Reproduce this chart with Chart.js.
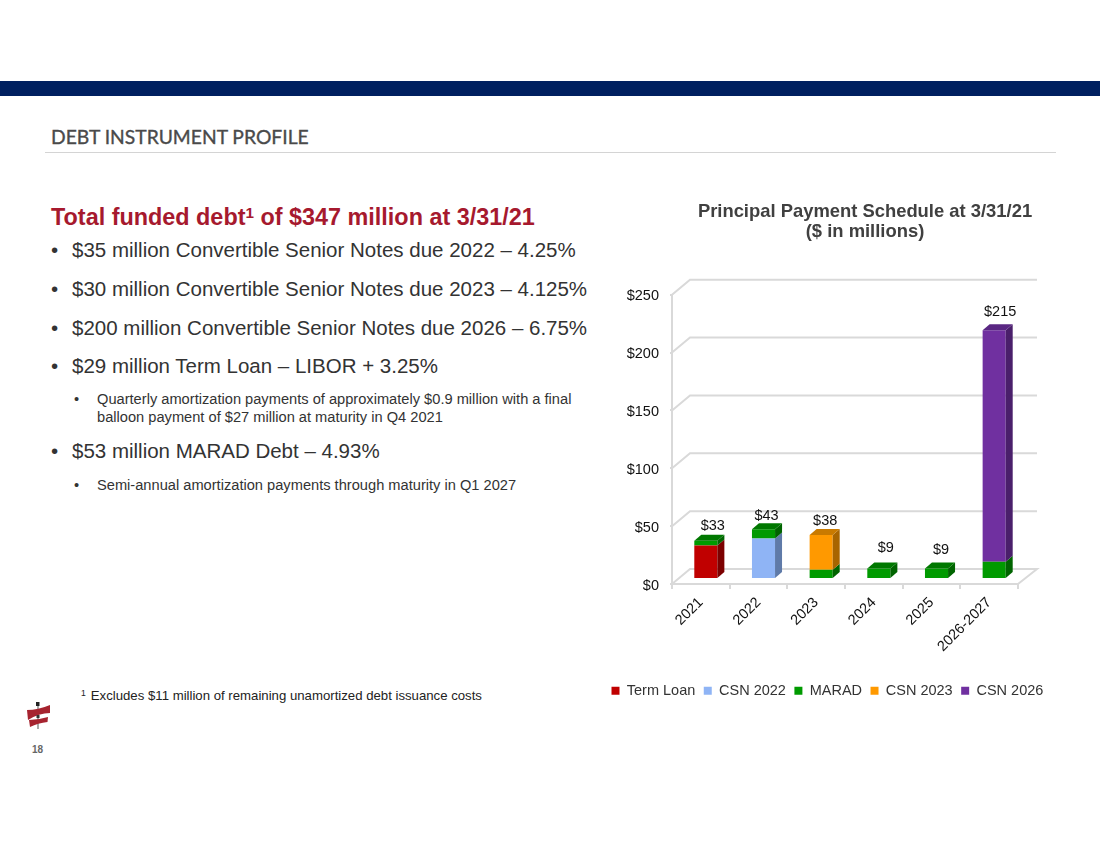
<!DOCTYPE html>
<html>
<head>
<meta charset="utf-8">
<title>Debt Instrument Profile</title>
<script src="https://cdn.jsdelivr.net/npm/chart.js@4"></script>
<style>
  html, body { margin: 0; padding: 0; background: #fff; width: 1100px; height: 850px; overflow: hidden; }
  body { position: relative; font-family: "Liberation Sans", Arial, sans-serif; color: #333; }
  .abs { position: absolute; white-space: nowrap; }
  #band { left: 0; top: 81px; width: 1100px; height: 15px; background: #002060; }
  #rule { left: 45px; top: 152px; width: 1011px; height: 1px; background: #d4d4d4; }
  #section { left: 51px; top: 125px; font: 400 19.3px Lato, sans-serif; -webkit-text-stroke: 0.35px #4a4a4a; color: #4a4a4a; line-height: 23px; }
  #headline { left: 51px; top: 203px; font-size: 23.4px; font-weight: bold; color: #a6192e; line-height: 28px; }
  sup { font-size: 65%; line-height: 0; vertical-align: baseline; position: relative; top: -0.45em; }
  .b1 { left: 51px; font-size: 20.5px; line-height: 24px; }
  .b1 span, .b2 span { display: inline-block; }
  .b1 span { width: 21px; }
  .b2 { left: 74px; font-size: 14.65px; line-height: 18px; }
  .b2 span { width: 23px; vertical-align: top; }
  .b2 div { display: inline-block; }
  #note { left: 81px; top: 688px; font-size: 13.2px; color: #222; line-height: 16px; }
  #note sup { margin-right: 5px; }
  #page { left: 32px; top: 744px; font-size: 10px; font-weight: bold; color: #666; }
  #logo { left: 24px; top: 698px; }
  #chart { position: absolute; left: 600px; top: 190px; }
</style>
</head>
<body>
<div class="abs" id="band"></div>
<div class="abs" id="section">DEBT INSTRUMENT PROFILE</div>
<div class="abs" id="rule"></div>

<div class="abs" id="headline">Total funded debt<sup>1</sup> of $347 million at 3/31/21</div>
<div class="abs b1" style="top:238px"><span>•</span>$35 million Convertible Senior Notes due 2022 – 4.25%</div>
<div class="abs b1" style="top:277px"><span>•</span>$30 million Convertible Senior Notes due 2023 – 4.125%</div>
<div class="abs b1" style="top:316px"><span>•</span>$200 million Convertible Senior Notes due 2026 – 6.75%</div>
<div class="abs b1" style="top:354px"><span>•</span>$29 million Term Loan – LIBOR + 3.25%</div>
<div class="abs b2" style="top:390px"><span>•</span><div>Quarterly amortization payments of approximately $0.9 million with a final<br>balloon payment of $27 million at maturity in Q4 2021</div></div>
<div class="abs b1" style="top:439px"><span>•</span>$53 million MARAD Debt – 4.93%</div>
<div class="abs b2" style="top:476px"><span>•</span><div>Semi-annual amortization payments through maturity in Q1 2027</div></div>

<div class="abs" id="note"><sup>1</sup>Excludes $11 million of remaining unamortized debt issuance costs</div>

<svg class="abs" id="logo" width="28" height="34" viewBox="0 0 28 34">
  <rect x="13.5" y="6" width="1" height="25" fill="#555"/>
  <rect x="12" y="4" width="3.5" height="4" fill="#222"/>
  <path d="M3 12 Q14 12 26 7 L26 15 Q15 15 4 22 Z" fill="#a6232f"/>
  <rect x="12.5" y="17" width="3" height="3" fill="#333"/>
  <path d="M5 22 Q14 22 24 19 L23.5 24 Q14 25 6 29 Z" fill="#a6232f"/>
</svg>
<div class="abs" id="page">18</div>

<canvas id="chart" width="530" height="520"></canvas>

<script>
const years = ['2021', '2022', '2023', '2024', '2025', '2026-2027'];
const termLoan = [29, 0, 0, 0, 0, 0];
const csn2022 = [0, 35, 0, 0, 0, 0];
const marad = [4, 8, 8, 9, 9, 15];
const csn2023 = [0, 0, 30, 0, 0, 0];
const csn2026 = [0, 0, 0, 0, 0, 200];
const chartTitle = ['Principal Payment Schedule at 3/31/21', '($ in millions)'];

// [front, side, top]
const termLoanColors = ['#c00000', '#7c0000', '#7c0000'];
const csn2022Colors = ['#8fb4f5', '#5f7aa8', '#5f7aa8'];
const maradColors = ['#009a00', '#006400', '#007800'];
const csn2023Colors = ['#ff9900', '#a86500', '#c97a00'];
const csn2026Colors = ['#7030a0', '#4a1f6b', '#5a2783'];

const gridColor = '#d9d9d9';
const wallX = 18;   // depth of the back wall
const wallY = 15;
const barShift = 5; // bars stand a little behind the front edge
const barDepthX = 7;
const barDepthY = 6;
// how far each total label sits from its bar top / centre
const labelDx = [0, -4, -3, 0, -2.5, -1];
const labelDy = [-15, -13, -14, -21, -19, -18];

function makeSet(label, data, colors) {
  return { label, data, backgroundColor: colors[0], sideColor: colors[1], topColor: colors[2], stack: 'debt' };
}

function poly(ctx, pts, color) {
  ctx.fillStyle = color;
  ctx.beginPath();
  pts.forEach((p, i) => (i ? ctx.lineTo(p[0], p[1]) : ctx.moveTo(p[0], p[1])));
  ctx.closePath();
  ctx.fill();
}

const box3d = {
  id: 'box3d',
  beforeDatasetsDraw(chart) {
    const { ctx, scales: { x, y }, chartArea: a } = chart;
    ctx.save();
    ctx.strokeStyle = gridColor;
    ctx.lineWidth = 2;
    y.ticks.forEach((t) => {
      const py = y.getPixelForValue(t.value);
      ctx.beginPath();
      ctx.moveTo(a.left, py);
      ctx.lineTo(a.left + wallX, py - wallY);
      ctx.lineTo(a.right + wallX + 1, py - wallY);
      if (t.value === 0) ctx.lineTo(a.right, py);
      ctx.stroke();
    });
    ctx.restore();

    // bars are drawn on a plane shifted back from the axes
    ctx.save();
    ctx.translate(barShift, -barShift);
  },
  afterDatasetsDraw(chart) {
    const { ctx } = chart;
    const n = years.length;
    for (let i = 0; i < n; i++) {
      let topEl = null;
      let topSet = null;
      chart.data.datasets.forEach((ds, d) => {
        if (!ds.data[i]) return;
        const el = chart.getDatasetMeta(d).data[i];
        const right = el.x + el.width / 2;
        poly(ctx, [[right, el.y], [right + barDepthX, el.y - barDepthY], [right + barDepthX, el.base - barDepthY], [right, el.base]], ds.sideColor);
        topEl = el;
        topSet = ds;
      });
      const left = topEl.x - topEl.width / 2;
      const right = topEl.x + topEl.width / 2;
      poly(ctx, [[left, topEl.y], [left + barDepthX, topEl.y - barDepthY], [right + barDepthX, topEl.y - barDepthY], [right, topEl.y]], topSet.topColor);

      let total = 0;
      chart.data.datasets.forEach((ds) => { total += ds.data[i]; });
      ctx.fillStyle = '#111';
      ctx.font = '14.5px "Liberation Sans"';
      ctx.textAlign = 'center';
      ctx.textBaseline = 'middle';
      ctx.fillText('$' + total, topEl.x + barDepthX + labelDx[i], topEl.y + labelDy[i]);
    }
    ctx.restore();
  },
};

new Chart(document.getElementById('chart'), {
  type: 'bar',
  data: {
    labels: years,
    datasets: [
      makeSet('Term Loan', termLoan, termLoanColors),
      makeSet('CSN 2022', csn2022, csn2022Colors),
      makeSet('MARAD', marad, maradColors),
      makeSet('CSN 2023', csn2023, csn2023Colors),
      makeSet('CSN 2026', csn2026, csn2026Colors),
    ],
  },
  plugins: [box3d],
  options: {
    responsive: false,
    animation: false,
    layout: { padding: { left: 3, right: 3, top: 0, bottom: 2 } },
    datasets: { bar: { barPercentage: 0.4, categoryPercentage: 1 } },
    plugins: {
      tooltip: { enabled: false },
      title: {
        display: true,
        text: chartTitle,
        color: '#404040',
        font: { family: '"Liberation Sans"', size: 18.4, weight: 'bold', lineHeight: 1.08 },
        padding: { top: 12, bottom: 53 },
      },
      legend: {
        position: 'bottom',
        align: 'start',
        labels: {
          color: '#333',
          font: { family: '"Liberation Sans"', size: 14.5 },
          boxWidth: 8,
          boxHeight: 8,
          padding: 8.5,
        },
      },
    },
    scales: {
      x: {
        stacked: true,
        afterFit(s) { s.height = 91; },
        border: { color: gridColor, width: 2 },
        grid: { drawOnChartArea: false, drawTicks: true, tickLength: 5, color: gridColor, lineWidth: 2 },
        ticks: {
          color: '#111',
          font: { family: '"Liberation Sans"', size: 14.5 },
          minRotation: 45,
          maxRotation: 45,
          autoSkip: false,
          padding: 5,
        },
      },
      y: {
        stacked: true,
        min: 0,
        max: 250,
        afterFit(s) { s.width = 69; },
        border: { color: gridColor, width: 2 },
        grid: { drawOnChartArea: false, drawTicks: true, tickLength: 2, color: gridColor, lineWidth: 2 },
        ticks: {
          stepSize: 50,
          color: '#111',
          padding: 11,
          labelOffset: 1.5,
          font: { family: '"Liberation Sans"', size: 14.5 },
          callback: (v) => '$' + v,
        },
      },
      // empty axis, keeps the plot clear of the right side so the title stays centred on the canvas
      spacer: {
        type: 'linear',
        position: 'right',
        afterFit(s) { s.width = 109; },
        border: { display: false },
        grid: { display: false },
        ticks: { display: false },
      },
    },
  },
});
</script>
</body>
</html>
